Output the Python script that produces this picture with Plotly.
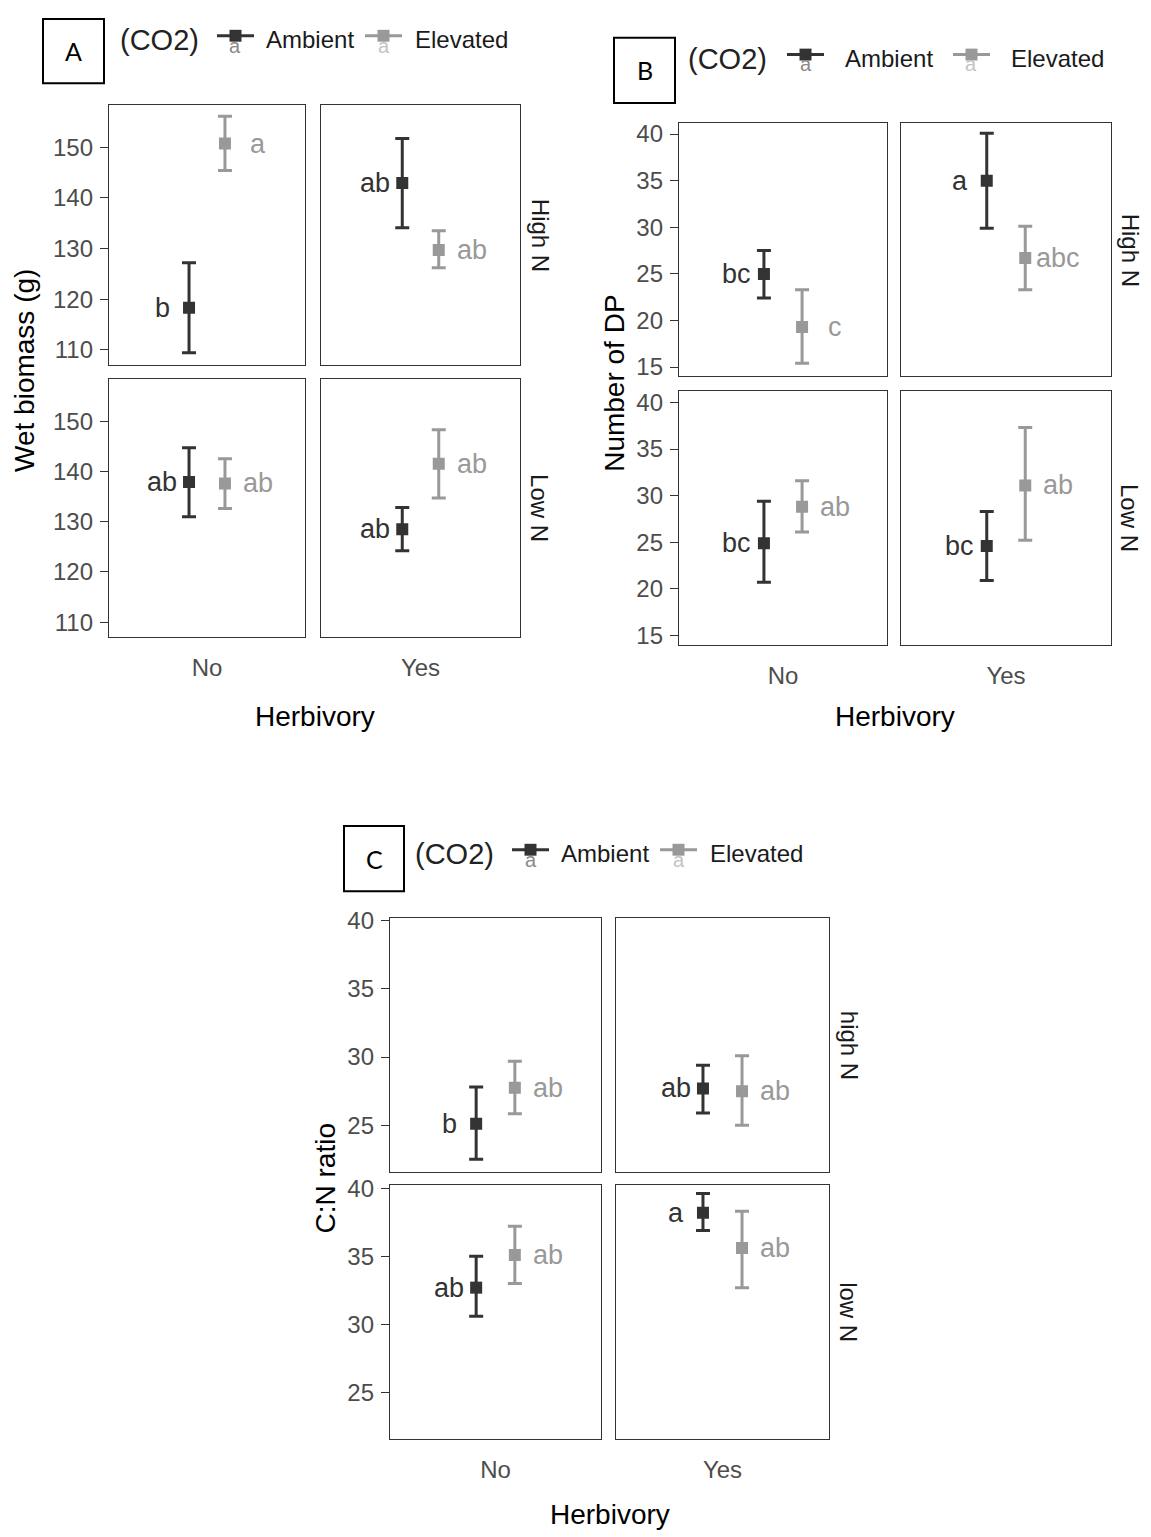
import plotly.graph_objects as go

W, H = 1151, 1537

# ---------------- data ----------------
herbivory = ["No", "Yes"]
co2_levels = ["Ambient", "Elevated"]
n_levels_AB = ["High N", "Low N"]
n_levels_C = ["high N", "low N"]
# order of cells: (N1,No), (N1,Yes), (N2,No), (N2,Yes)

# Panel A: wet biomass (g)
A_amb_mean = [118.3, 142.9, 137.9, 128.5]
A_amb_lo = [109.4, 134.1, 131.0, 124.2]
A_amb_hi = [127.2, 151.7, 144.7, 132.8]
A_elev_mean = [150.7, 129.7, 137.6, 141.5]
A_elev_lo = [145.4, 126.2, 132.6, 134.7]
A_elev_hi = [156.1, 133.5, 142.5, 148.3]
A_amb_letters = ["b", "ab", "ab", "ab"]
A_elev_letters = ["a", "ab", "ab", "ab"]
A_yticks = [110, 120, 130, 140, 150]

# Panel B: number of DP
B_amb_mean = [25.0, 35.0, 24.9, 24.6]
B_amb_lo = [22.4, 29.9, 20.7, 20.9]
B_amb_hi = [27.5, 40.1, 29.4, 28.3]
B_elev_mean = [19.3, 26.7, 28.8, 31.1]
B_elev_lo = [15.4, 23.3, 26.1, 25.2]
B_elev_hi = [23.3, 30.1, 31.6, 37.3]
B_amb_letters = ["bc", "a", "bc", "bc"]
B_elev_letters = ["c", "abc", "ab", "ab"]
B_yticks = [15, 20, 25, 30, 35, 40]

# Panel C: C:N ratio
C_amb_mean = [25.1, 27.7, 32.7, 38.2]
C_amb_lo = [22.5, 25.9, 30.6, 36.9]
C_amb_hi = [27.8, 29.4, 35.0, 39.6]
C_elev_mean = [27.75, 27.5, 35.1, 35.6]
C_elev_lo = [25.85, 25.0, 33.0, 32.7]
C_elev_hi = [29.7, 30.1, 37.2, 38.3]
C_amb_letters = ["b", "ab", "ab", "a"]
C_elev_letters = ["ab", "ab", "ab", "ab"]
C_yticks = [25, 30, 35, 40]

# ---------------- styling / layout ----------------
AMB_COL = "#333333"
ELEV_COL = "#999999"
TICK_COL = "#4D4D4D"
FONT = "Liberation Sans, Arial, sans-serif"
DODGE = 0.11

panels = [
    dict(letter="A", ytitle="Wet biomass (g)", nlev=n_levels_AB,
         am=A_amb_mean, al=A_amb_lo, ah=A_amb_hi, em=A_elev_mean, el=A_elev_lo, eh=A_elev_hi,
         alet=A_amb_letters, elet=A_elev_letters, yticks=A_yticks, yrange=[107.1, 158.3],
         cols=[(109, 305), (321, 520)], rows=[(95, 357), (372, 632)],
         box=(43, 8, 104, 73), leg_y=29, co2_x=118, key_amb=(217, 254), amb_tx=264,
         key_elev=(365, 402), elev_tx=413, ytitle_x=25, xtitle_y=712, strip_x=540),
    dict(letter="B", ytitle="Number of DP", nlev=n_levels_AB,
         am=B_amb_mean, al=B_amb_lo, ah=B_amb_hi, em=B_elev_mean, el=B_elev_lo, eh=B_elev_hi,
         alet=B_amb_letters, elet=B_elev_letters, yticks=B_yticks, yrange=[14.0, 41.2],
         cols=[(679, 887), (901, 1111)], rows=[(113, 369), (384, 640)],
         box=(614, 27, 675, 93), leg_y=48, co2_x=686, key_amb=(787, 824), amb_tx=843,
         key_elev=(953, 990), elev_tx=1009, ytitle_x=615, xtitle_y=712, strip_x=1130),
    dict(letter="C", ytitle="C:N ratio", nlev=n_levels_C,
         am=C_amb_mean, al=C_amb_lo, ah=C_amb_hi, em=C_elev_mean, el=C_elev_lo, eh=C_elev_hi,
         alet=C_amb_letters, elet=C_elev_letters, yticks=C_yticks, yrange=[21.6, 40.2],
         cols=[(390, 601), (616, 829)], rows=[(916, 1172), (1186, 1442)],
         box=(344, 823, 404, 889), leg_y=851, co2_x=413, key_amb=(512, 549), amb_tx=559,
         key_elev=(660, 697), elev_tx=708, ytitle_x=325, xtitle_y=1518, strip_x=849),
]


def px(x):
    return x / W


def py(y):
    return 1 - y / H


fig = go.Figure()
layout_axes = {}
annotations = []
shapes = []
k = 0
for p in panels:
    for r in range(2):
        for c in range(2):
            k += 1
            i = r * 2 + c
            xa = "x" if k == 1 else f"x{k}"
            ya = "y" if k == 1 else f"y{k}"
            xname = "xaxis" if k == 1 else f"xaxis{k}"
            yname = "yaxis" if k == 1 else f"yaxis{k}"
            x0, x1 = p["cols"][c]
            y0, y1 = p["rows"][r]
            layout_axes[xname] = dict(
                domain=[px(x0), px(x1)], anchor=ya, range=[0.4, 1.6],
                showline=True, mirror=True, linecolor="#333333", linewidth=1.4,
                showgrid=False, zeroline=False, tickvals=[1], ticktext=[herbivory[c]],
                showticklabels=(r == 1), ticks="outside", ticklen=9, tickcolor="rgba(0,0,0,0)",
                tickfont=dict(size=24, color=TICK_COL, family=FONT), fixedrange=True)
            layout_axes[yname] = dict(
                domain=[py(y1), py(y0)], anchor=xa, range=p["yrange"],
                showline=True, mirror=True, linecolor="#333333", linewidth=1.4,
                showgrid=False, zeroline=False, tickvals=p["yticks"],
                showticklabels=(c == 0), ticks=("outside" if c == 0 else ""),
                ticklen=8, tickwidth=1.4, tickcolor="#333333", ticklabelstandoff=2,
                tickfont=dict(size=24, color=TICK_COL, family=FONT), fixedrange=True)
            for ser, mean, lo, hi, lets, col, sgn, shift in [
                ("Ambient", p["am"], p["al"], p["ah"], p["alet"], AMB_COL, -1, -27),
                ("Elevated", p["em"], p["el"], p["eh"], p["elet"], ELEV_COL, 1, 33),
            ]:
                xv = 1 + sgn * DODGE
                fig.add_trace(go.Scatter(
                    x=[xv], y=[mean[i]], xaxis=xa, yaxis=ya, mode="markers",
                    marker=dict(symbol="square", size=12, color=col),
                    error_y=dict(type="data", symmetric=False,
                                 array=[hi[i] - mean[i]], arrayminus=[mean[i] - lo[i]],
                                 color=col, thickness=3, width=7),
                    showlegend=False, name=ser))
                annotations.append(dict(
                    x=xv, y=mean[i], xref=xa, yref=ya, text=lets[i], showarrow=False,
                    xanchor="center", yanchor="middle", xshift=shift,
                    font=dict(size=27, color=col, family=FONT)))
        # strip label for row
        annotations.append(dict(
            x=px(p["strip_x"]), y=py((p["rows"][r][0] + p["rows"][r][1]) / 2),
            xref="paper", yref="paper", text=p["nlev"][r], textangle=90, showarrow=False,
            xanchor="center", yanchor="middle", font=dict(size=24, color="#1A1A1A", family=FONT)))
    # y title
    annotations.append(dict(
        x=px(p["ytitle_x"]), y=py((p["rows"][0][0] + p["rows"][1][1]) / 2),
        xref="paper", yref="paper", text=p["ytitle"], textangle=-90, showarrow=False,
        xanchor="center", yanchor="middle", font=dict(size=28, color="black", family=FONT)))
    # x title
    annotations.append(dict(
        x=px((p["cols"][0][0] + p["cols"][1][1]) / 2), y=py(p["xtitle_y"]),
        xref="paper", yref="paper", text="Herbivory", showarrow=False,
        xanchor="center", yanchor="middle", font=dict(size=28, color="black", family=FONT)))
    # panel letter box
    bx0, by0, bx1, by1 = p["box"]
    shapes.append(dict(type="rect", xref="paper", yref="paper",
                       x0=px(bx0), x1=px(bx1), y0=py(by1), y1=py(by0),
                       line=dict(color="black", width=2), fillcolor="white"))
    annotations.append(dict(
        x=px((bx0 + bx1) / 2), y=py((by0 + by1) / 2), xref="paper", yref="paper",
        text=p["letter"], showarrow=False, xanchor="center", yanchor="middle",
        font=dict(size=25, color="black", family="Lato, sans-serif")))
    # legend
    ly = p["leg_y"]
    annotations.append(dict(
        x=px(p["co2_x"]), y=py(ly), xref="paper", yref="paper", text="(CO2)",
        showarrow=False, xanchor="left", yanchor="middle",
        font=dict(size=29, color="#222222", family=FONT)))
    for (kx0, kx1), tx, lab, col, acol in [
        (p["key_amb"], p["amb_tx"], co2_levels[0], AMB_COL, "#8A8A8A"),
        (p["key_elev"], p["elev_tx"], co2_levels[1], ELEV_COL, "#C4C4C4"),
    ]:
        kc = (kx0 + kx1) / 2
        annotations.append(dict(
            x=px(kc), y=py(ly + 6), xref="paper", yref="paper", text="a", showarrow=False,
            xanchor="center", yanchor="middle", font=dict(size=20, color=acol, family=FONT)))
        shapes.append(dict(type="line", xref="paper", yref="paper",
                           x0=px(kx0), x1=px(kx1), y0=py(ly - 4), y1=py(ly - 4),
                           line=dict(color=col, width=3)))
        shapes.append(dict(type="rect", xref="paper", yref="paper",
                           x0=px(kc - 6), x1=px(kc + 6), y0=py(ly + 2), y1=py(ly - 10),
                           line=dict(width=0), fillcolor=col))
        annotations.append(dict(
            x=px(tx), y=py(ly), xref="paper", yref="paper", text=lab, showarrow=False,
            xanchor="left", yanchor="middle", font=dict(size=24, color="#1A1A1A", family=FONT)))

fig.update_layout(
    width=W, height=H, autosize=False,
    margin=dict(l=0, r=0, t=0, b=0),
    paper_bgcolor="white", plot_bgcolor="white",
    showlegend=False, annotations=annotations, shapes=shapes,
    **layout_axes)

fig.write_html("out.html", config={"displayModeBar": False},
               post_script="document.body.style.margin='0';")
